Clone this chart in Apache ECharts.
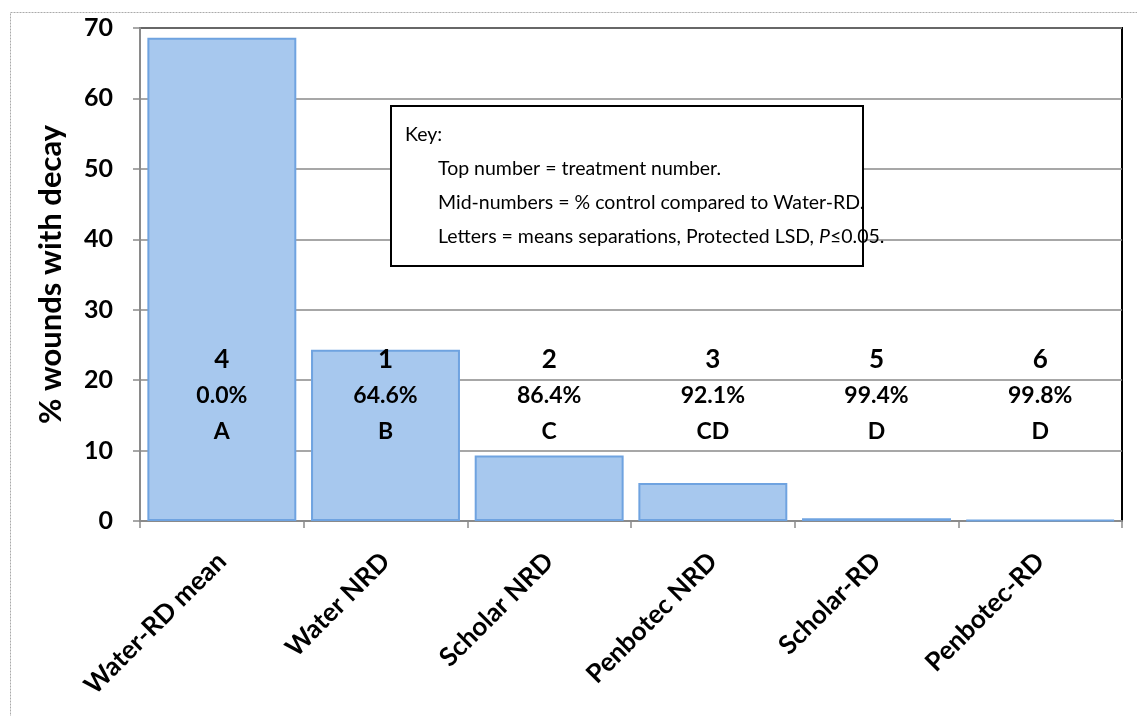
<!DOCTYPE html>
<html>
<head>
<meta charset="utf-8">
<script src="https://cdn.jsdelivr.net/npm/echarts@6/dist/echarts.min.js"></script>
<style>
  html, body { margin: 0; padding: 0; background: #fff; }
  #main { width: 1137px; height: 716px; }
</style>
</head>
<body>
<div id="main"></div>
<script>
// treatments, left to right
var categories = ['Water-RD mean', 'Water NRD', 'Scholar NRD', 'Penbotec NRD', 'Scholar-RD', 'Penbotec-RD'];
var decayPct = [68.6, 24.3, 9.3, 5.4, 0.4, 0.14];
var treatNum = ['4', '1', '2', '3', '5', '6'];
var controlPct = ['0.0%', '64.6%', '86.4%', '92.1%', '99.4%', '99.8%'];
var letters = ['A', 'B', 'C', 'CD', 'D', 'D'];
var yTicks = { min: 0, max: 70, interval: 10 };

var font = 'Lato, "Open Sans", sans-serif';
var keyFont = '19.5px ' + font;

var chart = echarts.init(document.getElementById('main'));
chart.setOption({
  animation: false,
  textStyle: { fontFamily: font },
  grid: {
    left: 140, right: 15, top: 28, bottom: 195,
    show: true, borderColor: '#000', borderWidth: 2, backgroundColor: 'transparent'
  },
  xAxis: [{
    type: 'category',
    data: categories,
    axisLine: { lineStyle: { color: '#8a8a8a', width: 2 } },
    axisTick: { show: true, length: 7, lineStyle: { color: '#8a8a8a', width: 1.5 } },
    axisLabel: {
      rotate: 45, margin: 36, color: '#000', fontWeight: 'bold', fontSize: 26, fontFamily: font
    }
  }, {
    // text block inside each column: treatment no., % control, letters
    type: 'category',
    data: categories,
    position: 'bottom',
    z: 5,
    axisLine: { show: false },
    axisTick: { show: false },
    axisLabel: {
      inside: true, margin: 71, color: '#000', fontFamily: font,
      formatter: function (v, i) {
        return '{n|' + treatNum[i] + '}\n{p|' + controlPct[i] + '}\n{l|' + letters[i] + '}';
      },
      rich: {
        n: { fontSize: 26, fontWeight: 'bold', lineHeight: 36, align: 'center' },
        p: { fontSize: 23, fontWeight: 'bold', lineHeight: 36, align: 'center' },
        l: { fontSize: 23, fontWeight: 'bold', lineHeight: 36, align: 'center' }
      }
    }
  }],
  yAxis: {
    type: 'value',
    min: yTicks.min, max: yTicks.max, interval: yTicks.interval,
    name: '% wounds with decay',
    nameLocation: 'middle',
    nameGap: 74,
    nameTextStyle: { fontSize: 31, fontWeight: 'bold', color: '#000', fontFamily: font },
    axisLine: { show: true, lineStyle: { color: '#8a8a8a', width: 2 } },
    axisTick: { show: true, length: 7, lineStyle: { color: '#8a8a8a', width: 1.5 } },
    axisLabel: { margin: 27, color: '#000', fontWeight: 'bold', fontSize: 25, fontFamily: font },
    splitLine: { lineStyle: { color: '#8a8a8a', width: 1.5 } }
  },
  series: [{
    type: 'bar',
    data: decayPct,
    barCategoryGap: '9%',
    itemStyle: { color: '#a7c8ee', borderColor: '#6fa3e0', borderWidth: 2 }
  }],
  graphic: [
    {
      type: 'rect', left: 8, top: 10, silent: true, z: 100,
      shape: { width: 1140, height: 720 },
      style: { fill: 'none', stroke: '#aaa', lineWidth: 1, lineDash: [2, 1] }
    },
    {
      type: 'rect', left: 390, top: 105, z: 100,
      shape: { width: 472, height: 160 },
      style: { fill: '#fff', stroke: '#000', lineWidth: 2 }
    },
    { type: 'text', left: 405, top: 125, z: 101, style: { text: 'Key:', font: keyFont, fill: '#000' } },
    { type: 'text', left: 438, top: 159, z: 101, style: { text: 'Top number = treatment number.', font: keyFont, fill: '#000' } },
    { type: 'text', left: 438, top: 193, z: 101, style: { text: 'Mid-numbers = % control compared to Water-RD.', font: keyFont, fill: '#000' } },
    {
      type: 'text', left: 438, top: 227, z: 101,
      style: {
        text: '{a|Letters = means separations, Protected LSD, }{b|P}{a|\u22640.05.}',
        rich: {
          a: { fontSize: 19.5, fontFamily: font, fill: '#000' },
          b: { fontSize: 19.5, fontFamily: font, fontStyle: 'italic', fill: '#000' }
        }
      }
    }
  ]
});
</script>
</body>
</html>
